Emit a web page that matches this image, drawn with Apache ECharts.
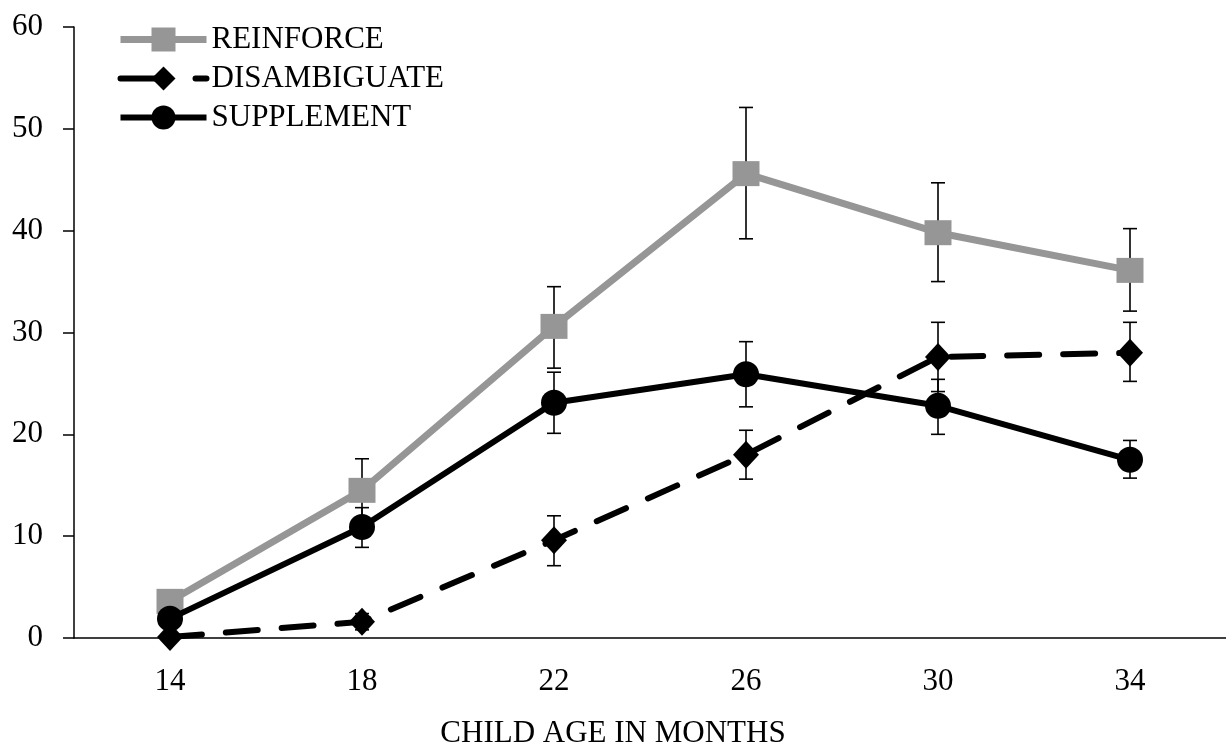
<!DOCTYPE html>
<html><head><meta charset="utf-8">
<script src="https://cdn.jsdelivr.net/npm/echarts@6/dist/echarts.min.js"></script>
<style>html,body{margin:0;padding:0;background:#fff}#c{width:1226px;height:753px}</style>
</head><body><div id="c"></div>
<script>
const categories = ['14','18','22','26','30','34'];
const reinforce = [3.6, 14.5, 30.6, 45.6, 39.8, 36.1];
const reinforceLow = [3.6, 11.4, 26.5, 39.2, 35.0, 32.1];
const reinforceHigh = [3.6, 17.6, 34.5, 52.1, 44.7, 40.2];
const disambiguate = [0.1, 1.6, 9.6, 18.0, 27.6, 28.0];
const disambiguateLow = [0.1, 0.8, 7.1, 15.6, 24.2, 25.2];
const disambiguateHigh = [0.1, 2.4, 12.0, 20.4, 31.0, 31.0];
const supplement = [1.9, 10.9, 23.1, 25.9, 22.8, 17.5];
const supplementLow = [1.9, 8.9, 20.1, 22.7, 20.0, 15.7];
const supplementHigh = [1.9, 12.8, 26.1, 29.1, 25.4, 19.4];
const yTicks = [0, 10, 20, 30, 40, 50, 60];

const FONT = '"Liberation Serif", "Times New Roman", serif';

function errSeries(low, high) {
  return {
    type: 'custom', z: 1, silent: true,
    data: categories.map((c, i) => [i, low[i], high[i]]),
    renderItem: function (params, api) {
      const lo = api.coord([api.value(0), api.value(1)]);
      const hi = api.coord([api.value(0), api.value(2)]);
      if (Math.abs(hi[1] - lo[1]) < 1) return null;
      const w = 7;
      const st = { stroke: '#000', lineWidth: 1.6 };
      return { type: 'group', children: [
        { type: 'line', shape: { x1: lo[0], y1: hi[1], x2: lo[0], y2: lo[1] }, style: st },
        { type: 'line', shape: { x1: lo[0] - w, y1: hi[1], x2: lo[0] + w, y2: hi[1] }, style: st },
        { type: 'line', shape: { x1: lo[0] - w, y1: lo[1], x2: lo[0] + w, y2: lo[1] }, style: st }
      ]};
    }
  };
}

const chart = echarts.init(document.getElementById('c'));
chart.setOption({
  animation: false,
  backgroundColor: '#fff',
  textStyle: { fontFamily: FONT },
  grid: { left: 74, right: -6, top: 27, bottom: 115, containLabel: false },
  legend: {
    left: 112, top: 19, orient: 'vertical', itemGap: 8,
    itemWidth: 86, itemHeight: 30,
    textStyle: { fontFamily: FONT, fontSize: 31, color: '#000' },
    data: [
      { name: 'REINFORCE', lineStyle: { width: 7, type: 'solid', color: '#969696' } },
      { name: 'DISAMBIGUATE', lineStyle: { width: 6, type: [45, 30], color: '#000' } },
      { name: 'SUPPLEMENT', lineStyle: { width: 6, type: 'solid', color: '#000' } }
    ]
  },
  xAxis: {
    type: 'category', data: categories, boundaryGap: true,
    axisLine: { lineStyle: { color: '#000', width: 1.5 } },
    axisTick: { show: false },
    axisLabel: { color: '#000', fontFamily: FONT, fontSize: 31, margin: 28 }
  },
  yAxis: {
    type: 'value', min: 0, max: 60, interval: 10,
    splitLine: { show: false },
    axisLine: { show: true, lineStyle: { color: '#000', width: 1.5 } },
    axisTick: { show: true, length: 11, lineStyle: { color: '#000', width: 1.5 } },
    axisLabel: { color: '#000', fontFamily: FONT, fontSize: 31, margin: 31,
      formatter: v => yTicks.includes(v) ? String(v) : '' }
  },
  graphic: [{
    type: 'text', left: 'center', top: 718, z: 10,
    style: { text: 'CHILD AGE IN MONTHS', font: '31px ' + FONT, fill: '#000' }
  }],
  series: [
    errSeries(reinforceLow, reinforceHigh),
    errSeries(disambiguateLow, disambiguateHigh),
    errSeries(supplementLow, supplementHigh),
    {
      name: 'REINFORCE', type: 'line', z: 3, data: reinforce,
      symbol: 'rect', symbolSize: [27, 25],
      itemStyle: { color: '#969696' },
      lineStyle: { color: '#969696', width: 7 }
    },
    {
      name: 'DISAMBIGUATE', type: 'line', z: 4, data: disambiguate,
      symbol: 'diamond', symbolSize: [26, 28],
      itemStyle: { color: '#000' },
      lineStyle: { color: '#000', width: 6, type: [32, 24], cap: 'round' }
    },
    {
      name: 'SUPPLEMENT', type: 'line', z: 5, data: supplement,
      symbol: 'circle', symbolSize: 26,
      itemStyle: { color: '#000' },
      lineStyle: { color: '#000', width: 6 }
    }
  ]
});
</script></body></html>
